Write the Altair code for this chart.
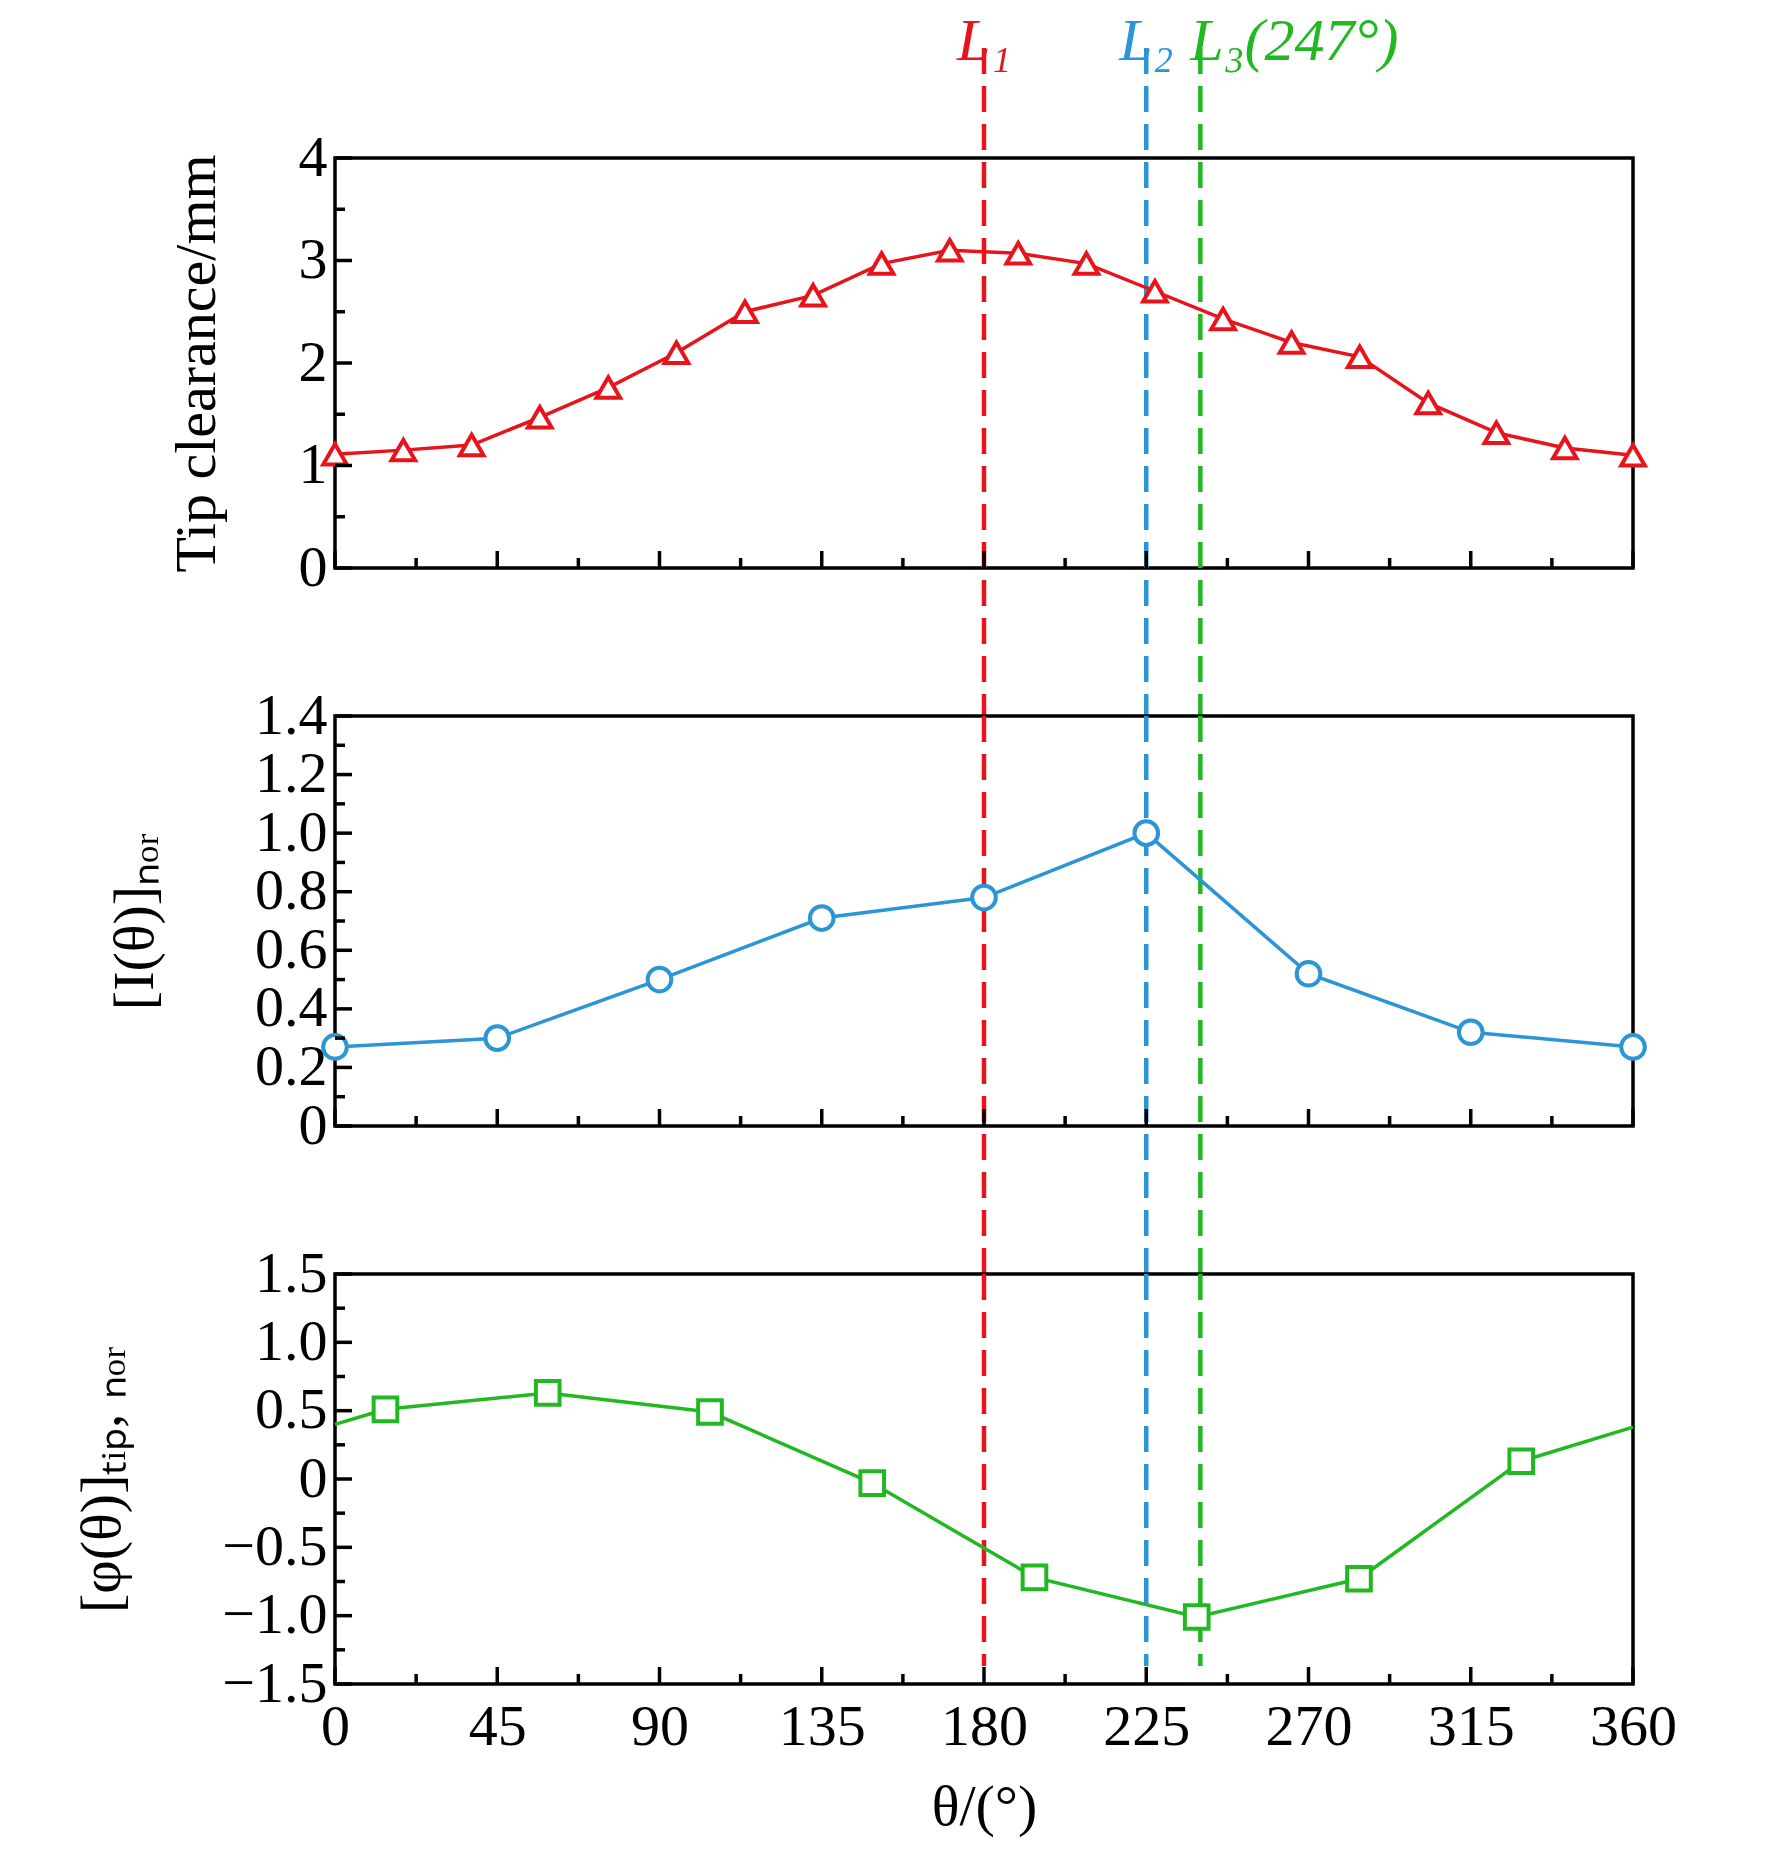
import altair as alt
import pandas as pd

# top panel: tip clearance
clear_theta = [0, 18.95, 37.9, 56.8, 75.8, 94.7, 113.7, 132.6, 151.6, 170.5, 189.5,
               208.4, 227.4, 246.3, 265.3, 284.2, 303.2, 322.1, 341.1, 360]
clear_vals = [1.11, 1.15, 1.20, 1.47, 1.76, 2.10, 2.50, 2.66, 2.97, 3.10, 3.07,
              2.97, 2.70, 2.43, 2.20, 2.06, 1.61, 1.32, 1.17, 1.10]

# middle panel: normalised intensity
int_theta = [0, 45, 90, 135, 180, 225, 270, 315, 360]
int_vals = [0.27, 0.30, 0.50, 0.71, 0.78, 1.00, 0.52, 0.32, 0.27]

# bottom panel: normalised phase
phase_line_theta = [0, 14, 59, 104, 149, 194, 239, 284, 329, 360]
phase_line_vals = [0.40, 0.51, 0.63, 0.49, -0.03, -0.72, -1.01, -0.73, 0.13, 0.38]
phase_mark_theta = phase_line_theta[1:-1]
phase_mark_vals = phase_line_vals[1:-1]

line_pos = [180, 225, 240]
line_names = ["L₁", "L₂", "L₃(247°)"]
line_colors = ["#e8141c", "#2b95d6", "#22b822"]
line_align = ["center", "center", "left"]

x_major = [0, 45, 90, 135, 180, 225, 270, 315, 360]
x_minor = [22.5, 67.5, 112.5, 157.5, 202.5, 247.5, 292.5, 337.5]

W, H = 1298, 410
GAP = 148
FONT = "Liberation Serif"
FS = 58

lines_df = pd.DataFrame({"x": line_pos, "name": line_names, "c": line_colors, "a": line_align})
xs = alt.Scale(domain=[0, 360], nice=False)


def label_expr():
    return "datum.value == 0 ? '0' : replace(format(datum.value, '.1f'), '-', '−')"


def panel(df, ydomain, ystep_major, ystep_minor, ytitle, color, shape, line_df,
          bottom=False, top=False, fmt_int=False, tpad=90):
    n = int(round((ydomain[1] - ydomain[0]) / ystep_major))
    y_major = [round(ydomain[0] + i * ystep_major, 3) for i in range(n + 1)]
    y_minor = [round(v + ystep_minor, 3) for v in y_major[:-1]]
    ys = alt.Scale(domain=ydomain, nice=False, zero=False)
    xaxis = alt.Axis(values=x_major, labels=bottom, ticks=False, domain=False, grid=False,
                     title="θ/(°)" if bottom else None, labelFont=FONT, labelFontSize=FS,
                     titleFont=FONT, titleFontSize=FS, titleFontWeight="normal",
                     labelPadding=14, titlePadding=22, labelColor="black",
                     labelFlush=False)
    yaxis = alt.Axis(values=y_major, ticks=False, domain=False, grid=False, title=ytitle,
                     labelFont=FONT, labelFontSize=FS, titleFont=FONT, titleFontSize=FS,
                     titleFontWeight="normal", labelPadding=8, titlePadding=tpad,
                     labelColor="black", labelFlush=False,
                     labelExpr="format(datum.value, 'd')" if fmt_int else label_expr())
    line = alt.Chart(line_df).mark_line(color=color, strokeWidth=3.5, clip=False).encode(
        x=alt.X("x:Q", scale=xs, axis=xaxis), y=alt.Y("y:Q", scale=ys, axis=yaxis))
    pts = alt.Chart(df).mark_point(shape=shape, size=560, strokeWidth=4, stroke=color,
                                   filled=False, fill="white", fillOpacity=1, opacity=1,
                                   clip=False).encode(
        x=alt.X("x:Q", scale=xs), y=alt.Y("y:Q", scale=ys))
    # inward ticks
    xt_major = alt.Chart(pd.DataFrame({"x": x_major})).mark_rule(color="black", strokeWidth=3.5).encode(
        x=alt.X("x:Q", scale=xs), y=alt.value(H), y2=alt.value(H - 17))
    xt_minor = alt.Chart(pd.DataFrame({"x": x_minor})).mark_rule(color="black", strokeWidth=3.5).encode(
        x=alt.X("x:Q", scale=xs), y=alt.value(H), y2=alt.value(H - 10))
    yt_major = alt.Chart(pd.DataFrame({"y": y_major})).mark_rule(color="black", strokeWidth=3.5).encode(
        y=alt.Y("y:Q", scale=ys), x=alt.value(0), x2=alt.value(17))
    yt_minor = alt.Chart(pd.DataFrame({"y": y_minor})).mark_rule(
        color="black", strokeWidth=3.5).encode(
        y=alt.Y("y:Q", scale=ys), x=alt.value(0), x2=alt.value(10))
    vtop = -110 if top else 0
    vbot = H - 18 if bottom else H + GAP
    vl = alt.Chart(lines_df).mark_rule(strokeWidth=4.5, strokeDash=[26, 12], clip=False).encode(
        x=alt.X("x:Q", scale=xs), y=alt.value(vtop), y2=alt.value(vbot),
        color=alt.Color("c:N", scale=None))
    layers = [vl, line, pts, xt_major, xt_minor, yt_major, yt_minor]
    if top:
        for a, dx in (("center", 0), ("left", -10)):
            lab = alt.Chart(lines_df).transform_filter(alt.datum.a == a).mark_text(
                font=FONT, fontSize=60, fontStyle="italic", align=a, dx=dx,
                baseline="alphabetic", clip=False).encode(
                x=alt.X("x:Q", scale=xs), y=alt.value(-98), text="name:N",
                color=alt.Color("c:N", scale=None))
            layers.append(lab)
    return alt.layer(*layers).properties(width=W, height=H)


top_df = pd.DataFrame({"x": clear_theta, "y": clear_vals})
mid_df = pd.DataFrame({"x": int_theta, "y": int_vals})
bot_df = pd.DataFrame({"x": phase_mark_theta, "y": phase_mark_vals})
bot_line = pd.DataFrame({"x": phase_line_theta, "y": phase_line_vals})

p1 = panel(top_df, [0, 4], 1, 0.5, "Tip clearance/mm", "#e8141c", "triangle-up", top_df,
           top=True, fmt_int=True, tpad=72)
p2 = panel(mid_df, [0, 1.4], 0.2, 0.1, "[I(θ)]ₙₒᵣ", "#2b95d6", "circle", mid_df)
p3 = panel(bot_df, [-1.5, 1.5], 0.5, 0.25, "[φ(θ)]ₜᵢₚ, ₙₒᵣ", "#22b822", "square", bot_line,
           bottom=True)

chart = alt.vconcat(p1, p2, p3, spacing=GAP, bounds="flush").configure(
    background="white", padding={"left": 64, "top": 2, "right": 40, "bottom": 10},
    view=alt.ViewConfig(stroke="black", strokeWidth=3.5))

chart.save("out.html", embed_options={"renderer": "svg", "actions": False})
